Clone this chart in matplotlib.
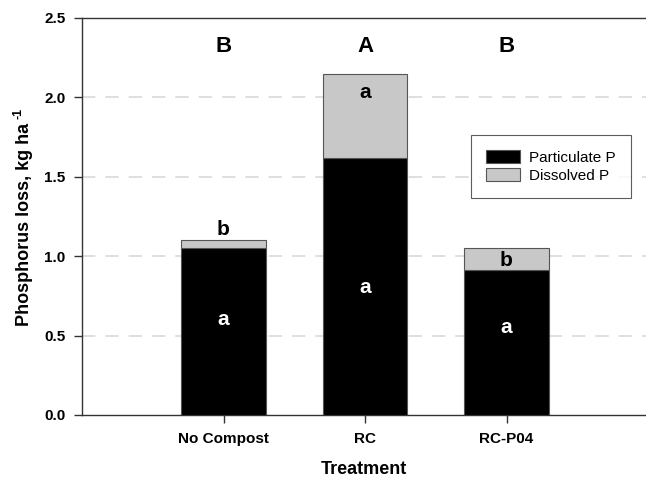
import matplotlib
matplotlib.use("Agg")
import matplotlib.pyplot as plt

treatments = ["No Compost", "RC", "RC-P04"]
particulate = [1.05, 1.62, 0.915]
dissolved = [0.055, 0.53, 0.135]
top_letters = ["B", "A", "B"]
part_letters = ["a", "a", "a"]
part_letter_y = [0.60, 0.80, 0.55]
diss_letters = ["b", "a", "b"]
diss_letter_y = [1.17, 2.03, 0.975]

plt.rcParams['font.family'] = ['Liberation Sans', 'DejaVu Sans']

fig = plt.figure(figsize=(6.46, 4.79), dpi=100)
W, H = 646, 479
ax = fig.add_axes([82 / W, 1 - 415 / H, (648 - 82) / W, (415 - 18) / H])

x = [1, 2, 3]
width = 0.6
ax.bar(x, particulate, width, color='black', edgecolor='#555555', linewidth=0.8,
       label='Particulate P', zorder=3)
ax.bar(x, dissolved, width, bottom=particulate, color='#c8c8c8', edgecolor='#555555',
       linewidth=0.8, label='Dissolved P', zorder=3)

for xi, t in zip(x, top_letters):
    ax.text(xi, 2.32, t, ha='center', va='center', fontsize=16, fontweight='bold')
for xi, t, y in zip(x, part_letters, part_letter_y):
    ax.text(xi, y, t, ha='center', va='center', fontsize=15, fontweight='bold',
            color='white', zorder=4)
for xi, t, y in zip(x, diss_letters, diss_letter_y):
    ax.text(xi, y, t, ha='center', va='center', fontsize=15, fontweight='bold',
            color='black', zorder=4)

ax.set_xlim(0, 4)
ax.set_ylim(0, 2.5)
ax.set_yticks([0.0, 0.5, 1.0, 1.5, 2.0, 2.5])
ax.set_yticklabels([f"{v:.1f}" for v in [0.0, 0.5, 1.0, 1.5, 2.0, 2.5]],
                   fontsize=11, fontweight='bold')
ax.set_xticks(x)
ax.set_xticklabels(treatments, fontsize=11, fontweight='bold')
ax.tick_params(axis='both', direction='out', length=6, width=1, color='#333333', pad=6)

for gy in [0.5, 1.0, 1.5, 2.0]:
    ax.axhline(gy, color='#d9d9d9', linestyle=(0, (8, 6)), linewidth=1.2, zorder=1)

ax.spines['right'].set_visible(False)
for s in ['left', 'top', 'bottom']:
    ax.spines[s].set_color('#333333')
    ax.spines[s].set_linewidth(1.0)

# y label with small superscript
fig.text(25 / W, 1 - 224 / H, "Phosphorus loss, kg ha", rotation=90, ha='center',
         va='center', fontsize=13, fontweight='bold')
fig.text(18 / W, 1 - 113 / H, "-1", rotation=90, ha='center', va='center',
         fontsize=9, fontweight='bold')
fig.text(364 / W, 1 - 470 / H, "Treatment", ha='center', va='center',
         fontsize=13, fontweight='bold')

leg = ax.legend(loc='upper left', bbox_to_anchor=((471 - 82) / 566, 1 - (135 - 18) / 397),
                fontsize=11, frameon=True, fancybox=False, edgecolor='#333333',
                handlelength=2.2, handleheight=0.9, borderpad=1.0, labelspacing=0.2,
                handletextpad=0.6, borderaxespad=0)
leg.get_frame().set_linewidth(0.8)

fig.savefig("out.png", dpi=100)
